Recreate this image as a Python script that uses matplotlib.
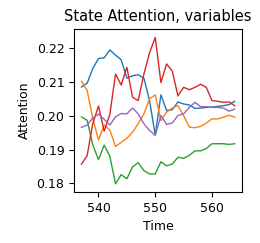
import matplotlib
matplotlib.use("Agg")
import matplotlib.pyplot as plt
import numpy as np

plt.rcParams['font.size'] = 9

steps = np.arange(537, 565)

blue = [0.2084, 0.2095, 0.2139, 0.2168, 0.2170, 0.2193, 0.2178, 0.2164, 0.2110, 0.2117,
        0.2120, 0.2110, 0.2044, 0.1942, 0.2061, 0.2015, 0.2017, 0.2040, 0.2034, 0.2031,
        0.2021, 0.2022, 0.2024, 0.2025, 0.2027, 0.2029, 0.2032, 0.2042]
orange = [0.2101, 0.2074, 0.1991, 0.1928, 0.1972, 0.1957, 0.1909, 0.1921, 0.1933, 0.1951,
          0.1976, 0.2005, 0.2049, 0.2061, 0.1985, 0.2010, 0.2022, 0.2029, 0.2000, 0.1966,
          0.1964, 0.1968, 0.1978, 0.1990, 0.1990, 0.1995, 0.2001, 0.1995]
green = [0.1996, 0.1986, 0.1913, 0.1870, 0.1913, 0.1880, 0.1799, 0.1826, 0.1814, 0.1849,
         0.1861, 0.1838, 0.1828, 0.1828, 0.1864, 0.1852, 0.1857, 0.1877, 0.1874, 0.1883,
         0.1896, 0.1896, 0.1903, 0.1917, 0.1917, 0.1917, 0.1915, 0.1917]
red = [0.1857, 0.1882, 0.1977, 0.2028, 0.1954, 0.2003, 0.2122, 0.2090, 0.2142, 0.2054,
       0.2044, 0.2122, 0.2185, 0.2230, 0.2097, 0.2152, 0.2131, 0.2058, 0.2083, 0.2076,
       0.2083, 0.2092, 0.2083, 0.2044, 0.2042, 0.2039, 0.2040, 0.2029]
purple = [0.1965, 0.1972, 0.1993, 0.2004, 0.1989, 0.1972, 0.1996, 0.2006, 0.2005, 0.2022,
          0.2005, 0.1976, 0.1956, 0.1942, 0.2000, 0.1974, 0.1978, 0.2000, 0.2005, 0.2024,
          0.2039, 0.2026, 0.2026, 0.2024, 0.2024, 0.2022, 0.2013, 0.2019]

fig = plt.figure(figsize=(2.6, 2.43), dpi=100)
ax = fig.add_axes([0.285, 0.21, 0.646, 0.671])

for series in [blue, orange, green, red, purple]:
    ax.plot(steps, series, linewidth=1.0)

ax.set_xlim(535.7, 565.3)
ax.set_ylim(0.1775, 0.2255)
ax.set_xticks([540, 550, 560])
ax.set_yticks([0.18, 0.19, 0.20, 0.21, 0.22])
ax.set_title('State Attention, variables', fontsize=10.5)
ax.set_xlabel('Time')
ax.set_ylabel('Attention')

fig.savefig('out.png', dpi=100)
